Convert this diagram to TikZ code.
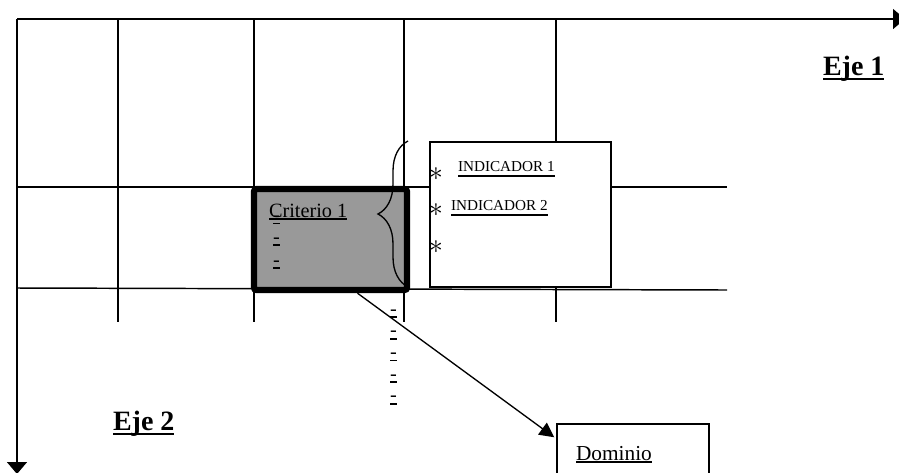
\documentclass[tikz,border=0pt]{standalone}
\usepackage{fontspec}
\setmainfont{Liberation Serif}
\usetikzlibrary{arrows.meta,decorations.pathreplacing,calc}
\newcommand\myul[3][2.1]{\setbox0\hbox{#3}\rlap{\rule[-#1pt]{\wd0}{#2pt}}\box0}
\newcommand\dashmark{\myul{1.2}{-}}
\begin{document}
\begin{tikzpicture}[x=0.75pt,y=-0.75pt,
  gridline/.style={line width=1.1pt},
  axisline/.style={line width=1.1pt,-{Triangle[length=9pt,width=15pt]}},
  lbl/.style={anchor=base west,inner sep=0pt,outer sep=0pt},
  critbox/.style={draw,line width=4.8pt,fill=black!40,rounded corners=2pt,
    minimum width=114.75pt,minimum height=75.75pt,inner sep=0pt},
  whitebox/.style={draw,fill=white,line width=1.1pt,inner sep=0pt},
  critfont/.style={font=\fontsize{15.2}{18}\selectfont},
  domfont/.style={font=\fontsize{16}{19}\selectfont},
  indfont/.style={font=\fontsize{11.4}{13}\selectfont},
  ejefont/.style={font=\bfseries\fontsize{21}{24}\selectfont},
  starfont/.style={font=\fontsize{22}{24}\selectfont},
  bracestyle/.style={line width=1pt,decorate,decoration={brace,amplitude=22.5pt}},
  linkarrow/.style={line width=1pt,-{Triangle[length=11pt,width=11pt]}}]
\useasboundingbox (0,0) rectangle (899,472);
% grid
\foreach \gx in {118,254,404,556}
  \draw[gridline] (\gx,19) -- (\gx,322);
\draw[gridline] (17,187) -- (727,187);
\draw[gridline] (17,288) -- (727,290);
% axes
\coordinate (origin) at (17,19);
\coordinate (e1end) at (905,19);
\coordinate (e2end) at (17,474);
\draw[axisline] (origin) -- (e1end);
\draw[axisline] (origin) -- (e2end);
% criterion box
\node[critbox] (crit) at (330.5,239.5) {};
\node[lbl,critfont] (crittext) at (269,217)
  {\rlap{\hspace{3pt}\raisebox{-3.5pt}{\dashmark}}%
   \rlap{\hspace{3pt}\raisebox{-19.5pt}{\dashmark}}%
   \rlap{\hspace{3pt}\raisebox{-36.75pt}{\dashmark}}%
   \myul{1.2}{Criterio 1}};
\node[lbl,critfont] (dashcol) at (390,315)
  {\vtop{\baselineskip=16.3pt
    \hbox{\dashmark}\hbox{\dashmark}\hbox{\dashmark}\hbox{\dashmark}\hbox{\dashmark}}};
% indicator box
\node[whitebox,minimum width=135.75pt,minimum height=108.75pt] (ind) at (520.5,214.5) {};
\node[starfont,inner sep=0pt] (s1) at (436,174) {$\ast$};
\node[starfont,inner sep=0pt] (s2) at (436,210) {$\ast$};
\node[starfont,inner sep=0pt] (s3) at (436,247) {$\ast$};
\node[lbl,indfont] (ind1) at (458,171) {\myul[4.3]{1.2}{INDICADOR 1}};
\node[lbl,indfont] (ind2) at (451,210) {\myul[4.3]{1.2}{INDICADOR 2}};
% brace
\coordinate (bracebot) at (408,287);
\coordinate (bracetop) at (408,141);
\draw[bracestyle] (bracebot) -- (bracetop);
% dominio
\node[whitebox,minimum width=114pt,minimum height=72pt] (dom) at (633,472) {};
\node[lbl,domfont] (domtext) at (576,460) {\myul{1.2}{Dominio}};
\draw[linkarrow] ($(crit.south)+(27,0)$) -- ($(dom.north west)+(-2,14)$);
% axis labels
\node[lbl,ejefont] (eje1) at (823,75) {\myul[3.75]{1.5}{Eje 1}};
\node[lbl,ejefont] (eje2) at (113,430) {\myul[3.75]{1.5}{Eje 2}};
\end{tikzpicture}
\end{document}
